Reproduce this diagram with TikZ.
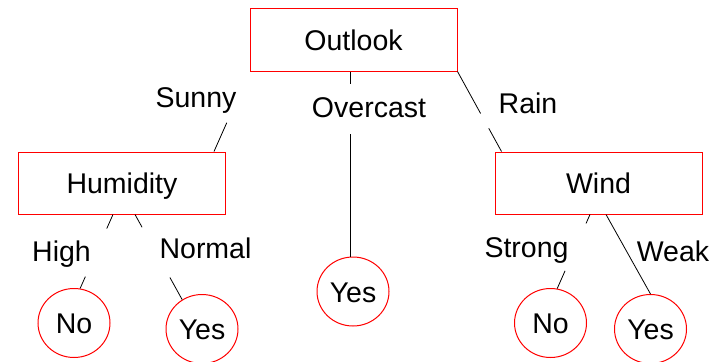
\documentclass[tikz,border=0pt]{standalone}
\usepackage{fontspec}
\setmainfont{Liberation Sans}
\usetikzlibrary{shapes.geometric}
\tikzset{
  txt/.style={font=\fontsize{28.5}{34}\selectfont},
  attr/.style={txt, draw=red, line width=1pt, rectangle, minimum width=207pt,
    minimum height=62pt, inner sep=0pt, text height=21pt, text depth=0pt},
  leaf/.style={txt, draw=red, line width=1pt, ellipse, minimum width=72pt,
    minimum height=69pt, inner sep=0pt, text height=21pt, text depth=0pt},
  branch/.style={txt, anchor=base, inner sep=0pt},
  edge/.style={draw=black, line width=0.8pt}
}
\begin{document}
\begin{tikzpicture}[x=1pt,y=-1pt]
\useasboundingbox (0,0) rectangle (719,361);

% attribute tests
\node[attr] (outlook)  at (353.5,40) {Outlook};
\node[attr] (humidity) at (122,183)  {Humidity};
\node[attr] (wind)     at (598.5,183) {Wind};

% leaves
\node[leaf] (no1)  at (74,323)    {No};
\node[leaf] (yes1) at (202,329)   {Yes};
\node[leaf] (yes0) at (353,291.5) {Yes};
\node[leaf] (no2)  at (550.5,323) {No};
\node[leaf] (yes2) at (650.5,329) {Yes};

% branch values
\node[branch] (sunny)    at (196,107)   {Sunny};
\node[branch] (overcast) at (369,117)   {Overcast};
\node[branch] (rain)     at (528,113)   {Rain};
\node[branch] (high)     at (61.5,261.5) {High};
\node[branch] (normal)   at (205.5,258) {Normal};
\node[branch] (strong)   at (526.5,257.5) {Strong};
\node[branch] (weak)     at (673,261)   {Weak};

% Outlook -> Humidity (Sunny)
\path (outlook.south west) -- ([xshift=-12pt]humidity.north east)
  coordinate[pos=0.64] (sunB);
\draw[edge] (sunB) -- ([xshift=-12pt]humidity.north east);

% Outlook -> Yes (Overcast)
\path ([xshift=-3.5pt]outlook.south) -- ([xshift=-3pt]yes0.north)
  coordinate[pos=0.065] (ovA) coordinate[pos=0.34] (ovB);
\draw[edge] ([xshift=-3.5pt]outlook.south) -- (ovA);
\draw[edge] (ovB) -- ([xshift=-3pt]yes0.north);

% Outlook -> Wind (Rain)
\path (outlook.south east) -- ([xshift=7pt]wind.north west)
  coordinate[pos=0.525] (rnA) coordinate[pos=0.71] (rnB);
\draw[edge] (outlook.south east) -- (rnA);
\draw[edge] (rnB) -- ([xshift=7pt]wind.north west);

% Humidity -> No (High)
\path ([xshift=-9pt]humidity.south) -- (no1.80)
  coordinate[pos=0.19] (hiA) coordinate[pos=0.84] (hiB);
\draw[edge] ([xshift=-9pt]humidity.south) -- (hiA);
\draw[edge] (hiB) -- (no1.80);

% Humidity -> Yes (Normal)
\path ([xshift=13pt]humidity.south) -- (yes1.124)
  coordinate[pos=0.15] (nmA) coordinate[pos=0.74] (nmB);
\draw[edge] ([xshift=13pt]humidity.south) -- (nmA);
\draw[edge] (nmB) -- (yes1.124);

% Wind -> No (Strong)
\path ([xshift=-8.5pt]wind.south) -- (no2.79)
  coordinate[pos=0.12] (stA) coordinate[pos=0.76] (stB);
\draw[edge] ([xshift=-8.5pt]wind.south) -- (stA);
\draw[edge] (stB) -- (no2.79);

% Wind -> Yes (Weak)
\draw[edge] ([xshift=7.5pt]wind.south) -- (yes2.north);
\end{tikzpicture}
\end{document}
